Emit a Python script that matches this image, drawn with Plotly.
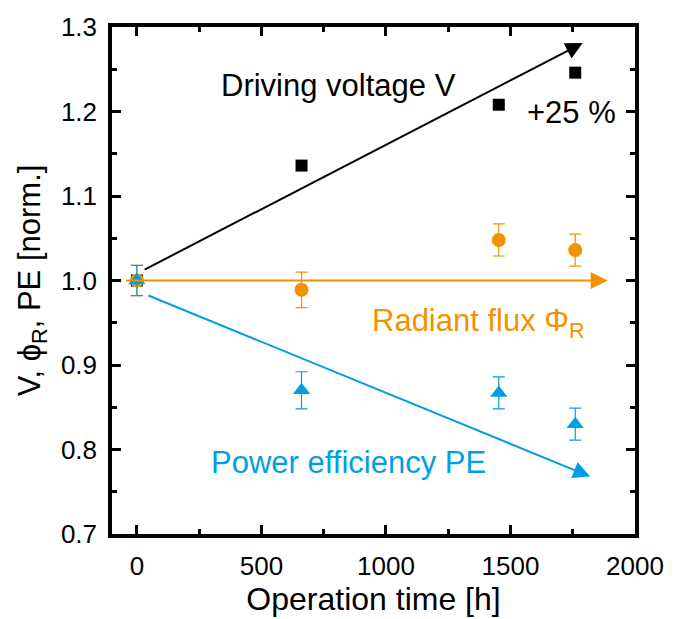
import plotly.graph_objects as go

# Operation time [h]
t_voltage = [0, 661, 1453, 1760]
voltage = [1.0, 1.136, 1.208, 1.246]

t_flux = [0, 661, 1453, 1760]
flux = [1.0, 0.989, 1.048, 1.036]
flux_err = [0.018, 0.021, 0.019, 0.019]

t_pe = [0, 661, 1453, 1760]
pe = [1.0, 0.870, 0.867, 0.830]
pe_err = [0.018, 0.022, 0.019, 0.019]

# Trend arrows: (start time, start value, end time, end value)
trend_voltage = (25, 1.012, 1790, 1.281)
trend_flux = (-50, 1.0, 1890, 1.0)
trend_pe = (40, 0.983, 1820, 0.768)

BLACK = "#000000"
ORANGE = "#F39200"
BLUE = "#009FE3"
FONT = "Liberation Sans, Arial, sans-serif"

fig = go.Figure()

fig.add_trace(go.Scatter(
    x=t_voltage, y=voltage, mode="markers",
    marker=dict(symbol="square", size=12, color=BLACK),
    name="V", showlegend=False,
))
fig.add_trace(go.Scatter(
    x=t_flux, y=flux, mode="markers",
    marker=dict(symbol="circle", size=14, color=ORANGE),
    error_y=dict(type="data", array=flux_err, color=ORANGE, thickness=1.2, width=6),
    name="Radiant flux", showlegend=False,
))
fig.add_trace(go.Scatter(
    x=t_pe, y=pe, mode="markers",
    marker=dict(symbol="triangle-up", size=15, color=BLUE),
    error_y=dict(type="data", array=pe_err, color=BLUE, thickness=1.2, width=6),
    name="Power efficiency", showlegend=False,
))

annotations = []
for (x0, y0, x1, y1), col in [(trend_voltage, BLACK), (trend_flux, ORANGE), (trend_pe, BLUE)]:
    annotations.append(dict(
        x=x1, y=y1, ax=x0, ay=y0, xref="x", yref="y", axref="x", ayref="y",
        text="", showarrow=True, arrowhead=2, arrowsize=1.7, arrowwidth=2,
        arrowcolor=col,
    ))

label_font = dict(family=FONT, size=31)
annotations += [
    dict(x=810, y=1.231, xref="x", yref="y", text="Driving voltage V", showarrow=False,
         font=dict(color=BLACK, **label_font)),
    dict(x=1745, y=1.199, xref="x", yref="y", text="+25 %", showarrow=False,
         font=dict(color=BLACK, **label_font)),
    dict(x=1370, y=0.950, xref="x", yref="y", text="Radiant flux Φ<sub>R</sub>", showarrow=False,
         font=dict(color=ORANGE, **label_font)),
    dict(x=848, y=0.785, xref="x", yref="y", text="Power efficiency PE", showarrow=False,
         font=dict(color=BLUE, **label_font)),
]

axis_common = dict(
    showline=True, linewidth=3.5, linecolor=BLACK, mirror="allticks",
    ticks="inside", ticklen=9, tickwidth=3, tickcolor=BLACK,
    showgrid=False, zeroline=False,
    tickfont=dict(family=FONT, size=26, color=BLACK),
    title_font=dict(family=FONT, size=32, color=BLACK),
)

fig.update_xaxes(
    range=[-100, 2000], tickvals=[0, 500, 1000, 1500, 2000],
    minor=dict(dtick=250, tick0=0, ticks="inside", ticklen=5, tickwidth=2.5, tickcolor=BLACK),
    title_text="Operation time [h]", title_standoff=4, ticklabelstandoff=6,
    **axis_common,
)
fig.update_yaxes(
    range=[0.7, 1.3], tickvals=[0.7, 0.8, 0.9, 1.0, 1.1, 1.2, 1.3], tickformat=".1f",
    minor=dict(dtick=0.05, tick0=0.7, ticks="inside", ticklen=5, tickwidth=2.5, tickcolor=BLACK),
    title_text="V, ϕ<sub>R</sub>, PE [norm.]", title_standoff=12, ticklabelstandoff=6,
    **axis_common,
)
fig.update_yaxes(title_font_size=31)

fig.update_layout(
    width=676, height=619,
    margin=dict(l=112, r=34, t=27, b=82),
    plot_bgcolor="white", paper_bgcolor="white",
    annotations=annotations,
    font=dict(family=FONT),
)

fig.write_html("out.html")
